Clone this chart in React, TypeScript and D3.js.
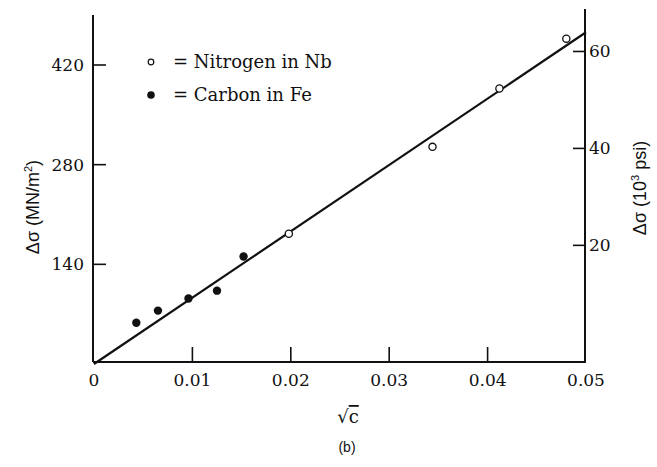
import React from "react";
import * as d3 from "d3";

// Data
const nitrogenX = [0.0198, 0.0344, 0.0412, 0.048];
const nitrogenY = [183, 305, 387, 457];
const carbonX = [0.0043, 0.0065, 0.0096, 0.0125, 0.0152];
const carbonY = [58, 75, 92, 103, 151];
const fitX = [0, 0.05];
const fitY = [0, 466];
const xTicks = [0, 0.01, 0.02, 0.03, 0.04, 0.05];
const xTickLabels = ["0", "0.01", "0.02", "0.03", "0.04", "0.05"];
const yLeftTicks = [140, 280, 420];
const yRightTicks = [20, 40, 60];
const legendLabels = ["= Nitrogen in Nb", "= Carbon in Fe"];

const W = 657;
const H = 467;

export default function App() {
  const x = d3.scaleLinear().domain([0, 0.05]).range([94, 586]);
  const yL = d3.scaleLinear().domain([0, 420]).range([364, 65]);
  const yR = d3.scaleLinear().domain([0, 70]).range([342.3, 3]);
  const axisY = 362;
  const leftX = 93;
  const rightX = 585;
  const line = d3
    .line<number>()
    .x((_, i) => x(fitX[i]))
    .y((_, i) => yL(fitY[i]));
  const serif = "DejaVu Serif";
  const sans = "Liberation Sans";

  return (
    <svg
      width={W}
      height={H}
      style={{ position: "absolute", left: 0, top: 0, background: "#fff" }}
    >
      <rect x={0} y={0} width={W} height={H} fill="#fff" />
      <line x1={leftX} y1={15} x2={leftX} y2={axisY} stroke="#111" strokeWidth={2} />
      <line x1={leftX} y1={axisY} x2={rightX + 1} y2={axisY} stroke="#111" strokeWidth={2} />
      <line x1={rightX} y1={9} x2={rightX} y2={axisY} stroke="#111" strokeWidth={2} />
      {xTicks.map((t, i) => (
        <g key={"xt" + i}>
          {i > 0 && i < xTicks.length - 1 && (
            <line x1={x(t)} x2={x(t)} y1={axisY} y2={axisY - 15} stroke="#111" strokeWidth={1.6} />
          )}
          <text x={x(t)} y={386} textAnchor="middle" fontFamily={serif} fontSize={17} fill="#111">
            {xTickLabels[i]}
          </text>
        </g>
      ))}
      {yLeftTicks.map((t) => (
        <g key={"yl" + t}>
          <line x1={leftX} x2={leftX + 13} y1={yL(t)} y2={yL(t)} stroke="#111" strokeWidth={1.6} />
          <text x={84} y={yL(t)} dy="0.35em" textAnchor="end" fontFamily={serif} fontSize={17} fill="#111">
            {t}
          </text>
        </g>
      ))}
      {yRightTicks.map((t) => (
        <g key={"yr" + t}>
          <line x1={rightX - 12} x2={rightX} y1={yR(t)} y2={yR(t)} stroke="#111" strokeWidth={1.6} />
          <text x={589} y={yR(t)} dy="0.35em" textAnchor="start" fontFamily={serif} fontSize={17} fill="#111">
            {t}
          </text>
        </g>
      ))}
      <path d={line(fitX) || ""} fill="none" stroke="#111" strokeWidth={2.2} />
      {carbonX.map((v, i) => (
        <circle key={"c" + i} cx={x(v)} cy={yL(carbonY[i])} r={4.2} fill="#111" />
      ))}
      {nitrogenX.map((v, i) => (
        <circle key={"n" + i} cx={x(v)} cy={yL(nitrogenY[i])} r={3.6} fill="#fff" stroke="#111" strokeWidth={1.3} />
      ))}
      <circle cx={151} cy={62} r={2.8} fill="#fff" stroke="#111" strokeWidth={1.2} />
      <text x={173} y={62} dy="0.35em" fontFamily={serif} fontSize={18} fill="#111">
        {legendLabels[0]}
      </text>
      <circle cx={151} cy={95} r={3.8} fill="#111" />
      <text x={173} y={95} dy="0.35em" fontFamily={serif} fontSize={18} fill="#111">
        {legendLabels[1]}
      </text>
      <text transform="translate(39,207) rotate(-90)" textAnchor="middle" fontFamily={sans} fontSize={18} fill="#111">
        Δσ (MN/m<tspan dy="-7" fontSize={11}>2</tspan>
        <tspan dy="7">)</tspan>
      </text>
      <text transform="translate(646,188) rotate(-90)" textAnchor="middle" fontFamily={sans} fontSize={18} fill="#111">
        Δσ (10<tspan dy="-7" fontSize={11}>3</tspan>
        <tspan dy="7"> psi)</tspan>
      </text>
      <text x={348} y={423} textAnchor="middle" fontFamily={serif} fontSize={18} fill="#111">
        √<tspan textDecoration="overline">c</tspan>
      </text>
      <text x={347} y={452} textAnchor="middle" fontFamily={sans} fontSize={14} fill="#111">
        (b)
      </text>
    </svg>
  );
}
